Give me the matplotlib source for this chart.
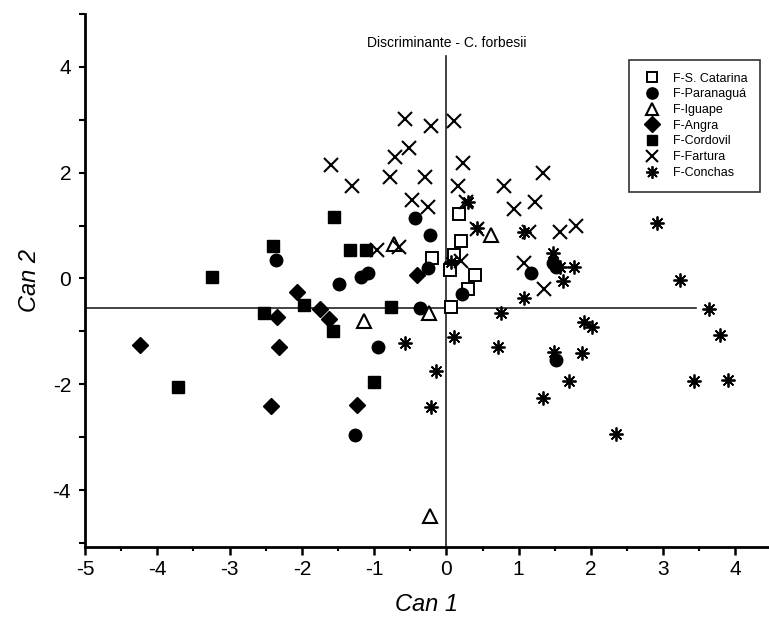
import matplotlib
matplotlib.use('Agg')
import matplotlib.pyplot as plt
from matplotlib.ticker import MultipleLocator

plt.rcParams['font.family'] = ['Liberation Sans', 'DejaVu Sans']
plt.rcParams['axes.unicode_minus'] = False

# canonical scores
catarina_x = [0.17, 0.20, -0.20, 0.11, 0.05, 0.39, 0.30, 0.06]
catarina_y = [1.22, 0.70, 0.39, 0.44, 0.16, 0.07, -0.20, -0.54]

paranagua_x = [-2.36, -1.48, -1.18, -1.09, -0.44, -0.23, -0.25, -0.37, 0.22, -0.95, -1.27, 1.17, 1.47, 1.52, 1.52]
paranagua_y = [0.35, -0.10, 0.03, 0.11, 1.14, 0.82, 0.19, -0.56, -0.29, -1.30, -2.96, 0.10, 0.29, 0.22, -1.54]

iguape_x = [-0.72, 0.62, -0.24, -1.14, -0.23]
iguape_y = [0.65, 0.82, -0.66, -0.80, -4.49]

angra_x = [-4.24, -2.34, -2.32, -2.42, -2.07, -1.75, -1.62, -1.24, -0.40]
angra_y = [-1.26, -0.72, -1.30, -2.41, -0.25, -0.58, -0.77, -2.40, 0.07]

cordovil_x = [-3.24, -3.71, -2.53, -2.40, -1.97, -1.57, -1.55, -1.34, -1.11, -0.76, -1.00]
cordovil_y = [0.03, -2.05, -0.66, 0.62, -0.50, -0.99, 1.17, 0.53, 0.53, -0.54, -1.95]

fartura_x = [-1.59, -1.31, -0.57, -0.21, 0.10, -0.52, -0.71, 0.23, -0.78, -0.29, 0.16, 0.80, -0.48, -0.25,
             0.27, 0.94, 0.43, -0.96, -0.66, 0.20, 1.07, 1.33, 1.23, 1.15, 1.57, 1.80, 1.35]
fartura_y = [2.15, 1.75, 3.01, 2.88, 2.98, 2.46, 2.30, 2.18, 1.91, 1.92, 1.74, 1.74, 1.48, 1.35,
             1.45, 1.31, 0.93, 0.53, 0.60, 0.33, 0.30, 1.99, 1.44, 0.88, 0.87, 0.99, -0.19]

conchas_x = [0.30, 0.43, 1.08, 1.08, 0.76, 0.11, -0.57, 0.71, -0.15, -0.21, 1.33, 1.47, 1.57, 1.77,
             1.61, 2.91, 3.23, 3.64, 3.78, 3.90, 3.43, 1.90, 2.02, 1.87, 1.49, 1.69, 2.35, 0.07]
conchas_y = [1.45, 0.95, 0.88, -0.37, -0.65, -1.11, -1.21, -1.29, -1.75, -2.43, -2.26, 0.49, 0.22, 0.22,
             -0.05, 1.05, -0.03, -0.58, -1.07, -1.92, -1.94, -0.83, -0.91, -1.40, -1.38, -1.93, -2.94, 0.32]

fig = plt.figure(figsize=(7.69, 6.23), dpi=100)
ax = fig.add_axes([85 / 769, 1 - 546.7 / 623, 683 / 769, 532.7 / 623])

# reference lines
ax.plot([-5, 3.46], [-0.55, -0.55], color='#222222', lw=1.2, zorder=1)
ax.plot([0, 0], [-5.07, 4.2], color='#222222', lw=1.2, zorder=1)

ax.plot(catarina_x, catarina_y, 's', ms=8, mfc='white', mec='black', mew=1.4, ls='none', label='F-S. Catarina')
ax.plot(paranagua_x, paranagua_y, 'o', ms=9, color='black', ls='none', label='F-Paranaguá')
ax.plot(iguape_x, iguape_y, '^', ms=10, mfc='white', mec='black', mew=1.5, ls='none', label='F-Iguape')
ax.plot(angra_x, angra_y, 'D', ms=8.5, color='black', ls='none', label='F-Angra')
ax.plot(cordovil_x, cordovil_y, 's', ms=8, color='black', ls='none', label='F-Cordovil')
ax.plot(fartura_x, fartura_y, 'x', ms=10, color='black', mew=1.5, ls='none', label='F-Fartura')
ax.plot(conchas_x, conchas_y, marker=(8, 2, 0), ms=10, color='black', mew=1.3, ls='none', label='F-Conchas')

ax.set_xlim(-5.0, 4.45)
ax.set_ylim(-5.07, 5.0)
ax.spines['top'].set_visible(False)
ax.spines['right'].set_visible(False)
ax.spines['left'].set_linewidth(2)
ax.spines['bottom'].set_linewidth(2)

ax.xaxis.set_major_locator(MultipleLocator(1))
ax.xaxis.set_minor_locator(MultipleLocator(0.5))
ax.yaxis.set_major_locator(MultipleLocator(2))
ax.yaxis.set_minor_locator(MultipleLocator(1))
ax.tick_params(axis='x', which='major', direction='out', length=6, width=1.8, labelsize=15)
ax.tick_params(axis='x', which='minor', direction='out', length=3, width=1.5)
ax.tick_params(axis='y', which='both', direction='out', length=4, width=1.5, labelsize=15, pad=6)

ax.set_xlabel('Can 1', fontsize=17, style='italic', labelpad=10)
ax.set_ylabel('Can 2', fontsize=17, style='italic', labelpad=8)

ax.text(0, 4.45, 'Discriminante - C. forbesii', ha='center', va='center', fontsize=10)

leg = ax.legend(loc='upper right', bbox_to_anchor=(760 / 769, 1 - 60 / 623), bbox_transform=fig.transFigure,
                fontsize=9, frameon=True, fancybox=False, edgecolor='black', labelspacing=0.3,
                handletextpad=0.9, handlelength=1.6, borderpad=1.0, borderaxespad=0, numpoints=1,
                markerscale=0.9)
leg.get_frame().set_linewidth(1.2)

fig.savefig('out.png', dpi=100)
